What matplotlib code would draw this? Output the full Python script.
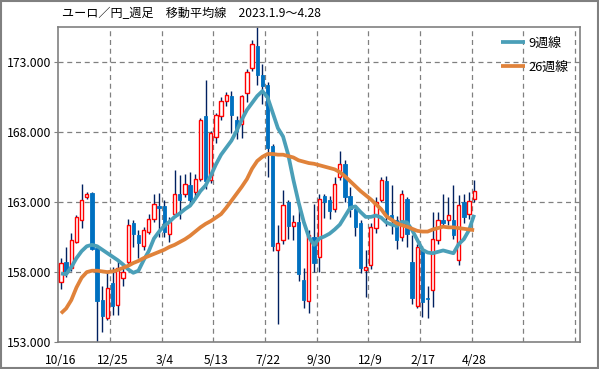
import matplotlib
matplotlib.use("Agg")
import matplotlib.pyplot as plt
from matplotlib.patches import Rectangle

plt.rcParams["font.family"] = ["Noto Sans CJK JP", "DejaVu Sans"]

# weekly candles, oldest first (10/16 ... 4/28)
opens = [157.26, 158.69, 158.31, 160.17, 161.76, 163.34, 163.67, 159.74, 156.00, 154.69,
         157.19, 155.64, 157.60, 158.74, 161.52, 160.64, 159.88, 160.88, 161.83, 162.71,
         162.71, 160.76, 162.19, 163.57, 163.62, 164.21, 163.74, 164.69, 169.17, 164.57,
         167.67, 169.17, 170.21, 170.60, 168.90, 168.60, 170.80, 172.60, 174.20, 172.10,
         171.40, 167.00, 159.60, 160.29, 162.98, 161.29, 161.60, 157.43, 155.90, 160.52,
         159.10, 163.43, 163.14, 162.55, 164.81, 165.76, 163.43, 162.55, 161.48, 158.14,
         158.50, 161.19, 163.19, 164.50, 162.10, 161.76, 160.48, 163.26, 158.74, 155.60,
         159.64, 156.17, 156.71, 160.29, 161.76, 161.71, 161.71, 158.86, 162.98, 162.14,
         163.26]
highs = [158.98, 159.81, 160.81, 162.10, 164.33, 163.75, 163.74, 159.81, 157.00, 158.10,
         158.40, 158.90, 158.45, 161.80, 161.71, 161.00, 161.24, 162.19, 163.62, 163.67,
         163.14, 161.95, 165.29, 164.93, 165.05, 165.17, 165.05, 169.00, 171.71, 168.10,
         169.40, 170.52, 170.88, 170.93, 169.20, 170.70, 172.50, 174.60, 175.50, 172.90,
         171.60, 167.20, 161.40, 163.86, 163.14, 162.07, 162.79, 158.30, 161.00, 162.90,
         163.62, 163.60, 163.43, 164.81, 166.65, 166.00, 164.10, 162.80, 161.70, 159.57,
         161.50, 163.40, 164.81, 164.90, 164.20, 162.00, 163.90, 163.40, 160.64, 160.00,
         159.90, 157.00, 162.31, 162.31, 163.62, 163.38, 164.21, 163.50, 163.60, 163.74,
         164.62]
lows = [156.80, 157.67, 158.10, 160.05, 161.12, 163.20, 159.57, 153.03, 153.75, 154.60,
        154.95, 154.95, 157.00, 158.60, 159.81, 159.00, 159.57, 160.76, 161.60, 160.48,
        160.48, 160.17, 161.95, 161.83, 163.40, 162.90, 163.40, 164.50, 163.98, 164.40,
        167.26, 168.90, 169.90, 167.98, 167.50, 167.60, 170.20, 172.40, 171.40, 170.00,
        164.80, 159.50, 154.30, 160.00, 160.40, 160.29, 157.36, 155.43, 155.07, 158.02,
        158.00, 161.90, 161.83, 162.30, 164.60, 163.00, 161.95, 160.60, 157.95, 156.24,
        158.20, 160.80, 163.00, 161.30, 160.70, 159.62, 160.20, 159.81, 155.75, 155.40,
        154.81, 154.69, 155.52, 160.00, 161.20, 161.40, 160.40, 158.50, 161.50, 161.80,
        163.00]
closes = [158.62, 158.02, 160.29, 161.91, 163.19, 163.57, 159.67, 155.95, 154.88, 156.83,
          155.60, 158.26, 158.00, 161.36, 160.71, 160.05, 161.00, 161.83, 162.86, 162.57,
          160.88, 161.62, 163.57, 163.14, 164.29, 163.14, 164.69, 168.90, 164.52, 167.98,
          169.26, 170.21, 170.64, 169.26, 168.10, 170.60, 172.30, 174.30, 172.10, 171.30,
          166.90, 159.90, 160.05, 162.79, 161.31, 161.55, 157.83, 156.00, 160.64, 158.62,
          163.26, 163.00, 162.38, 164.33, 165.71, 163.38, 162.55, 161.20, 158.30, 158.33,
          161.24, 163.02, 164.62, 162.10, 161.80, 160.33, 163.57, 160.76, 156.17, 159.76,
          155.88, 156.05, 160.40, 161.71, 161.48, 162.05, 160.64, 162.79, 161.95, 163.10,
          163.81]

ma9 = [157.90, 157.85, 158.35, 159.00, 159.50, 159.85, 159.95, 159.85, 159.60, 159.35,
       159.10, 158.85, 158.55, 158.20, 157.95, 158.10, 158.85, 159.50, 160.40, 160.90,
       161.30, 161.60, 161.95, 162.20, 162.50, 162.75, 163.25, 163.80, 164.20, 164.90,
       165.70, 166.40, 166.90, 167.40, 168.10, 168.90, 169.60, 170.10, 170.60, 170.95,
       170.50, 169.40, 168.30, 167.70, 166.40, 164.60, 163.00, 161.60, 160.50, 159.95,
       160.40, 160.55, 160.75, 161.05, 161.40, 162.00, 162.60, 162.70, 162.30, 161.95,
       161.95, 162.05, 161.90, 161.55, 161.40, 161.30, 161.60, 161.55, 161.00, 160.30,
       159.60, 159.40, 159.35, 159.45, 159.55, 159.45, 159.35, 160.00, 160.35, 161.00,
       162.10]
ma26 = [155.05, 155.40, 156.00, 156.90, 157.60, 158.00, 158.10, 158.10, 158.05, 158.00,
        158.05, 158.15, 158.30, 158.45, 158.65, 158.80, 159.00, 159.15, 159.30, 159.45,
        159.60, 159.80, 159.95, 160.15, 160.35, 160.60, 160.90, 161.20, 161.45, 161.65,
        161.90, 162.15, 162.60, 163.10, 163.60, 164.10, 164.65, 165.40, 165.95, 166.25,
        166.45, 166.45, 166.40, 166.40, 166.30, 166.20, 166.00, 165.90, 165.80, 165.75,
        165.65, 165.55, 165.45, 165.35, 165.15, 164.85, 164.50, 164.15, 163.80, 163.50,
        163.20, 162.85, 162.50, 162.00, 161.75, 161.50, 161.35, 161.25, 161.10, 160.95,
        160.90, 160.90, 161.05, 161.15, 161.25, 161.20, 161.20, 161.15, 161.10, 161.05,
        161.00]

date_labels = ["10/16", "12/25", "3/4", "5/13", "7/22", "9/30", "12/9", "2/17", "4/28"]
y_ticks = [153, 158, 163, 168, 173]

UP = "#ff0000"
DOWN = "#0070c0"
WICK = "#002060"
GRID = "#808080"

fig = plt.figure(figsize=(5.99, 3.69), dpi=100)
ax = fig.add_axes([0.0975, 0.0732, 0.8708, 0.8523])

xs = list(range(len(opens)))
ax.vlines(xs, lows, highs, color=WICK, linewidth=1.0, zorder=2)
for x, o, c in zip(xs, opens, closes):
    bottom = min(o, c)
    height = max(abs(c - o), 0.06)
    if c >= o:
        ax.bar(x, height, bottom=bottom, width=0.62, facecolor="white",
               edgecolor=UP, linewidth=1.0, zorder=3)
    else:
        ax.bar(x, height, bottom=bottom, width=0.66, facecolor=DOWN,
               edgecolor=DOWN, linewidth=0.6, zorder=3)

ax.plot(xs, ma9, color="#4a9fb8", linewidth=2.7, zorder=4, label="9週線",
        solid_capstyle="butt")
ax.plot(xs, ma26, color="#e0823a", linewidth=2.7, zorder=4, label="26週線",
        solid_capstyle="butt")

ax.set_xlim(-0.5, 100.5)
ax.set_ylim(153, 175.5)

ax.set_xticks(range(0, 81, 10))
ax.set_xticklabels(date_labels)
ax.set_yticks(y_ticks)
ax.set_yticklabels([f"{v:.3f}" for v in y_ticks])
ax.tick_params(axis="x", which="both", length=0, pad=9, labelsize=8.7)
ax.tick_params(axis="y", length=3, color=GRID, pad=2, labelsize=8.8)

for b in range(9, 100, 10):
    ax.axvline(b + 0.5, color=GRID, linewidth=0.9, linestyle=(0, (4, 3)), zorder=1)
for v in y_ticks[1:]:
    ax.axhline(v, color=GRID, linewidth=0.9, linestyle=(0, (4, 3)), zorder=1)

for side in ax.spines.values():
    side.set_color(GRID)
    side.set_linewidth(1.2)

leg = ax.legend(loc="upper right", frameon=False, fontsize=9.3,
                handlelength=1.9, handletextpad=0.25, labelspacing=0.85,
                borderaxespad=0.3, bbox_to_anchor=(0.995, 1.0))

fig.text(62 / 599, 1 - 14 / 369, "ユーロ／円_週足　移動平均線　2023.1.9～4.28",
         fontsize=8.7, va="center", ha="left")

fig.patches.append(Rectangle((0.001, 0.002), 0.997, 0.995, transform=fig.transFigure,
                             fill=False, edgecolor=GRID, linewidth=1.5))

fig.savefig("out.png", dpi=100)
